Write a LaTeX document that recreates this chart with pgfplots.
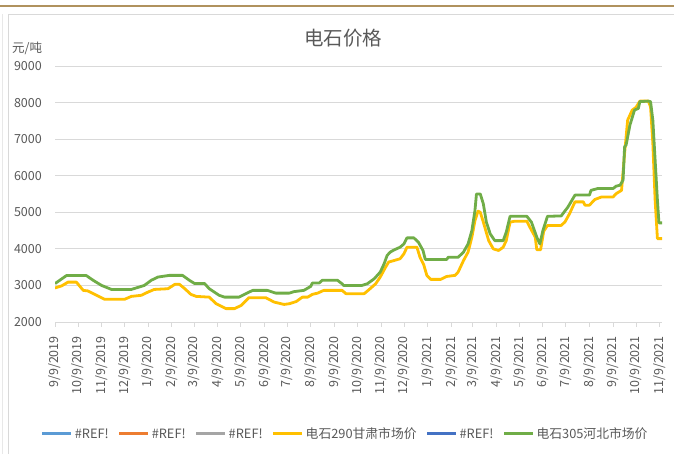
\documentclass[border=0pt]{standalone}
\usepackage{pgfplots}
\pgfplotsset{compat=1.18}
\usepackage{fontspec}
\setmainfont{Noto Sans CJK SC}
\definecolor{txt}{HTML}{595959}
\definecolor{grid}{HTML}{D9D9D9}
\definecolor{cblue}{HTML}{5B9BD5}
\definecolor{corange}{HTML}{ED7D31}
\definecolor{cgray}{HTML}{A5A5A5}
\definecolor{cgold}{HTML}{FFC000}
\definecolor{cdblue}{HTML}{4472C4}
\definecolor{cgreen}{HTML}{70AD47}
\definecolor{tan}{HTML}{B0925E}
\begin{document}
\begin{tikzpicture}
\useasboundingbox (0,0) rectangle (674pt,454pt);
\fill[white] (0,0) rectangle (674pt,454pt);
\draw[tan, line width=2.2pt] (0,448pt) -- (674pt,448pt);
\draw[grid, line width=0.8pt] (8pt,0) -- (8pt,440pt) -- (674pt,440pt);
\draw[grid!60, line width=0.6pt] (2pt,0) -- (2pt,440pt);
\begin{axis}[
  at={(55pt,132pt)}, anchor=south west,
  scale only axis, width=607pt, height=256pt,
  xmin=0, xmax=795, ymin=2000, ymax=9000,
  ytick={2000,3000,...,9000},
  xtick={0,30,61,91,122,153,182,213,243,274,304,335,366,396,427,457,488,519,547,578,608,639,669,700,731,761,792},
  xticklabels={9/9/2019,10/9/2019,11/9/2019,12/9/2019,1/9/2020,2/9/2020,3/9/2020,4/9/2020,5/9/2020,6/9/2020,7/9/2020,8/9/2020,9/9/2020,10/9/2020,11/9/2020,12/9/2020,1/9/2021,2/9/2021,3/9/2021,4/9/2021,5/9/2021,6/9/2021,7/9/2021,8/9/2021,9/9/2021,10/9/2021,11/9/2021},
  /pgf/number format/assume math mode=true,
  /pgf/number format/1000 sep={},
  axis x line*=bottom, axis y line*=left,
  y axis line style={draw=none},
  x axis line style={grid, line width=0.8pt, -},
  ymajorgrids=true, xmajorgrids=false,
  y grid style={grid, line width=0.8pt},
  xtick style={grid, line width=0.8pt},
  ytick style={draw=none},
  tick align=outside, major tick length=5pt,
  ticklabel style={font=\fontsize{12.5}{14}\selectfont, text=txt},
  xticklabel style={rotate=90, anchor=east, inner sep=0pt, xshift=-9pt},
  yticklabel style={anchor=east, inner sep=0pt, xshift=-8pt},
  legend style={at={(0.478,-0.4375)}, anchor=center, legend columns=6, draw=none, fill=none,
    font=\fontsize{12.8}{14}\selectfont, text=txt,
    /tikz/every even column/.append style={column sep=7pt}},
  legend image code/.code={\draw[#1, line width=3pt] (0pt,0pt) -- (29pt,0pt);},
  every axis plot/.append style={line width=2.8pt, line join=round},
]
\addlegendimage{cblue}\addlegendentry{\#REF!}
\addlegendimage{corange}\addlegendentry{\#REF!}
\addlegendimage{cgray}\addlegendentry{\#REF!}
\addplot[cgold] coordinates {
(0,2930) (9,2990) (17,3090) (28,3090) (37,2865) (43,2850) (52,2755) (65,2620) (91,2620) (100,2700) (113,2730) (122,2820) (130,2890) (148,2910) (157,3030)
(163,3030) (170,2910) (178,2755) (185,2700) (202,2680) (211,2500) (224,2365) (235,2365) (244,2455) (254,2665) (276,2665) (287,2545) (300,2480) (307,2500) (316,2560)
(324,2680) (331,2680) (337,2755) (344,2790) (352,2865) (376,2865) (381,2775) (405,2775) (411,2880) (420,3045) (426,3230) (433,3500) (437,3640) (444,3680) (452,3730) (457,3865) (461,4045) (474,4045) (478,3775) (483,3560)
(487,3275) (492,3165) (505,3165) (513,3245) (524,3275) (528,3365) (535,3680) (541,3910) (546,4320) (550,4770) (554,5030) (557,5000) (561,4730) (568,4225) (574,4000) (581,3955) (587,4045) (591,4225) (596,4730) (602,4755) (618,4755) (622,4590) (629,4320) (631,3975) (636,3975)
(640,4480) (645,4640) (663,4640) (668,4740) (674,4965) (681,5285) (692,5285) (694,5195) (700,5195) (707,5350) (716,5420) (731,5420) (735,5510) (742,5600) (746,6610) (750,7520) (756,7795) (761,7870) (766,8040) (777,8040) (780,7885) (783,6880) (786,5330) (789,4280) (795,4280)
};
\addlegendentry{电石290甘肃市场价}
\addlegendimage{cdblue}\addlegendentry{\#REF!}
\addplot[cgreen] coordinates {
(0,3050) (15,3270) (41,3270) (50,3140) (61,3000) (74,2890) (100,2890) (117,3000) (126,3140) (135,3230) (150,3275)
(167,3275) (176,3140) (183,3050) (196,3050) (202,2910) (215,2730) (222,2680) (241,2680) (248,2755) (259,2865) (278,2865) (289,2790) (307,2790) (313,2830)
(326,2865) (335,2975) (337,3065) (346,3065) (350,3140) (370,3140) (376,3045) (378,3000) (402,3000) (409,3045) (418,3180) (426,3365) (431,3590) (435,3820) (439,3910) (444,3970) (452,4045) (457,4135) (461,4300) (470,4300) (476,4180) (482,3955) (485,3710)
(513,3710) (515,3770) (528,3770) (535,3910) (541,4135) (546,4500) (550,5045) (552,5500) (557,5500) (561,5230) (565,4730) (570,4410) (576,4225) (587,4225) (591,4455) (596,4890) (618,4890) (624,4730) (631,4320) (635,4135) (639,4500) (645,4890)
(663,4900) (672,5150) (681,5470) (700,5470) (702,5600) (711,5650) (731,5650) (735,5715) (740,5740) (744,5880) (746,6790) (748,6840) (753,7385) (759,7795) (764,7840) (766,8025) (777,8040) (780,8025) (783,7520) (786,6425) (789,5330) (791,4710) (796,4710)
};
\addlegendentry{电石305河北市场价}
\end{axis}
\node[anchor=center, text=txt, font=\fontsize{19.5}{22}\selectfont] at (343pt,416pt) {电石价格};
\node[anchor=west, text=txt, font=\fontsize{12.5}{14}\selectfont, inner sep=0pt] at (12pt,406pt) {元/吨};
\end{tikzpicture}
\end{document}
